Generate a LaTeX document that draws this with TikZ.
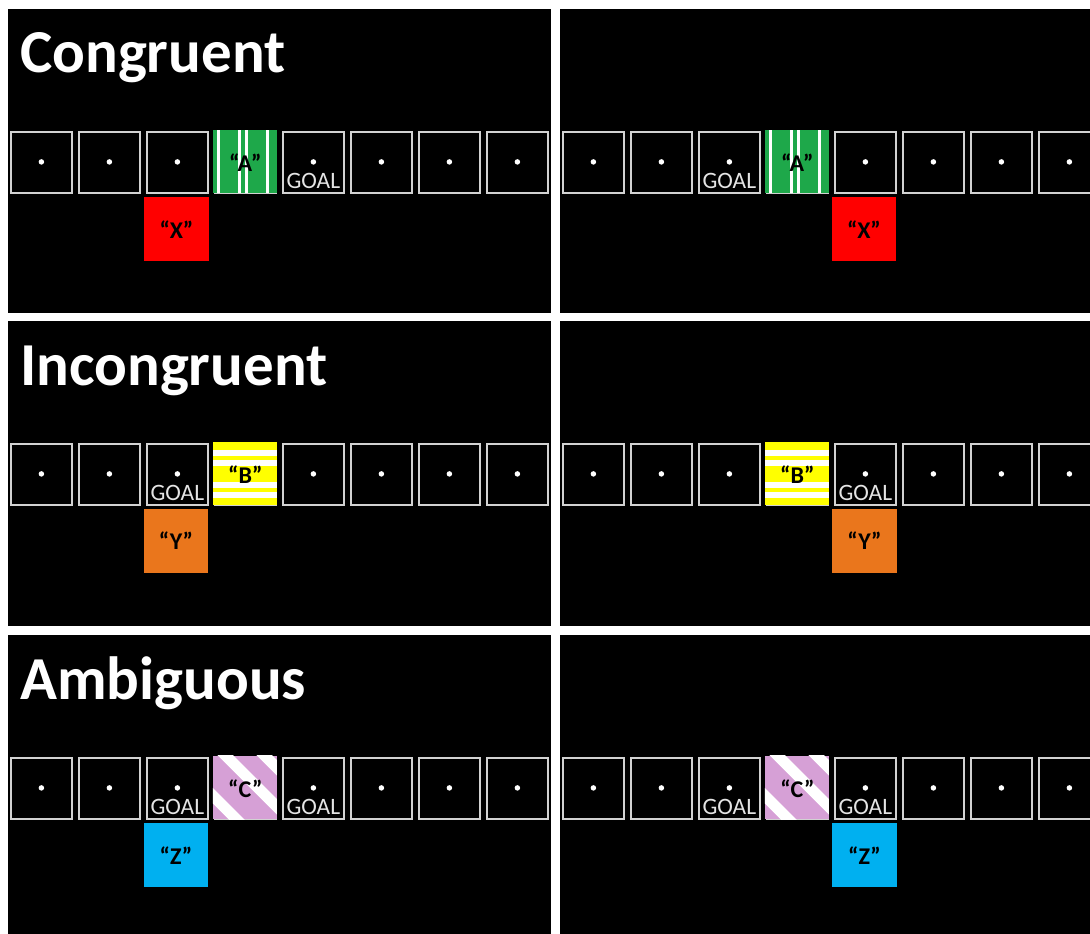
\documentclass[tikz,border=0pt]{standalone}
\usepackage{fontspec}
\setmainfont{Carlito}
\definecolor{cellgray}{RGB}{210,210,210}
\definecolor{goalgray}{RGB}{228,228,228}
\definecolor{greenc}{RGB}{30,168,74}
\definecolor{yellowc}{RGB}{255,255,0}
\definecolor{pinkc}{RGB}{214,160,214}
\definecolor{redc}{RGB}{255,0,0}
\definecolor{orangec}{RGB}{234,118,28}
\definecolor{bluec}{RGB}{0,176,240}
\newcommand\greencell[2]{%
  \fill[greenc] (#1,#2) rectangle ++(64,63.5);
  \foreach \o in {3.8,24.8,32,53}{\fill[white] ({#1+\o},#2) rectangle ++(3.2,63.5);}
}
\newcommand\yellowcell[2]{%
  \fill[yellowc] (#1,#2) rectangle ++(64,63.5);
  \foreach \o in {8,18.5,40,50.5}{\fill[white] (#1,{#2+\o}) rectangle ++(64,6);}
}
\newcommand\pinkcell[2]{%
  \begin{scope}
    \clip (#1,#2) rectangle ++(64,63.5);
    \fill[pinkc] (#1,#2) rectangle ++(64,63.5);
    \foreach \o in {-40,13,52}{\draw[white,line width=11pt] ({#1+\o-12},{#2-12}) -- ++(90,90);}
  \end{scope}
}
\begin{document}
\begin{tikzpicture}[x=1pt,y=-1pt,
  cell/.style={draw=cellgray,line width=1.8pt,fill=black,minimum size=61.2pt,inner sep=0pt,anchor=north west},
  dotmark/.style={circle,fill=white,inner sep=0pt,minimum size=5.5pt},
  goal/.style={text=goalgray,inner sep=0pt,anchor=base,font=\fontsize{23.5}{25}\selectfont},
  cuebox/.style={fill=#1,minimum width=64.5pt,minimum height=64pt,inner sep=0pt,anchor=north west},
  cuetext/.style={text=black,inner sep=0pt,font=\fontsize{24}{26}\selectfont\bfseries},
  title/.style={text=white,inner sep=0pt,anchor=base west,font=\fontsize{61}{63}\selectfont\bfseries}]
\useasboundingbox (0,0) rectangle (1090,934);
\clip (0,0) rectangle (1090,934);
\fill[white] (0,0) rectangle (1090,934);
% panels
\foreach \py/\ph in {9/304,321/305,635/310}{
  \fill[black] (8,\py) rectangle (551,{\py+\ph});
  \fill[black] (560,\py) rectangle (1095,{\py+\ph});
}
% titles
\node[title] (t1) at (20,73) {Congruent};
\node[title] (t2) at (20,385) {Incongruent};
\node[title] (t3) at (20,699) {Ambiguous};
% cells with dots
\foreach \r/\py in {1/9,2/321,3/635}{
  \foreach \s/\xo in {L/9,R/561}{
    \foreach \k in {0,...,7}{
      \node[cell] (c\r\s\k) at ({\xo+68*\k+0.9},{\py+121.9}) {};
      \node[dotmark] (d\r\s\k) at ([yshift=0.5pt]c\r\s\k.center) {};
    }
  }
}
% patterned cells (column 4)
\greencell{212.8}{129.7}
\greencell{764.8}{129.7}
\yellowcell{212.8}{441.7}
\yellowcell{764.8}{441.7}
\pinkcell{212.8}{755.7}
\pinkcell{764.8}{755.7}
\node[cuetext] (a1) at (c1L3.center) {“A”};
\node[cuetext] (a2) at (c1R3.center) {“A”};
\node[cuetext] (b1) at (c2L3.center) {“B”};
\node[cuetext] (b2) at (c2R3.center) {“B”};
\node[cuetext] (cc1) at (c3L3.center) {“C”};
\node[cuetext] (cc2) at (c3R3.center) {“C”};
% GOAL labels
\foreach \c in {c1L4,c1R2,c2L2,c2R4,c3L2,c3L4,c3R2,c3R4}{
  \node[goal] (g\c) at ([yshift=-26.5pt]\c.center) {GOAL};
}
% response boxes
\node[cuebox=redc] (x1) at (144,197) {};
\node[cuetext] (x1t) at (x1.center) {“X”};
\node[cuebox=redc] (x2) at (831.5,197) {};
\node[cuetext] (x2t) at (x2.center) {“X”};
\node[cuebox=orangec] (y1) at (143.5,508.5) {};
\node[cuetext] (y1t) at (y1.center) {“Y”};
\node[cuebox=orangec] (y2) at (832,508.5) {};
\node[cuetext] (y2t) at (y2.center) {“Y”};
\node[cuebox=bluec] (z1) at (143.5,823) {};
\node[cuetext] (z1t) at (z1.center) {“Z”};
\node[cuebox=bluec] (z2) at (832,823) {};
\node[cuetext] (z2t) at (z2.center) {“Z”};
\end{tikzpicture}
\end{document}
